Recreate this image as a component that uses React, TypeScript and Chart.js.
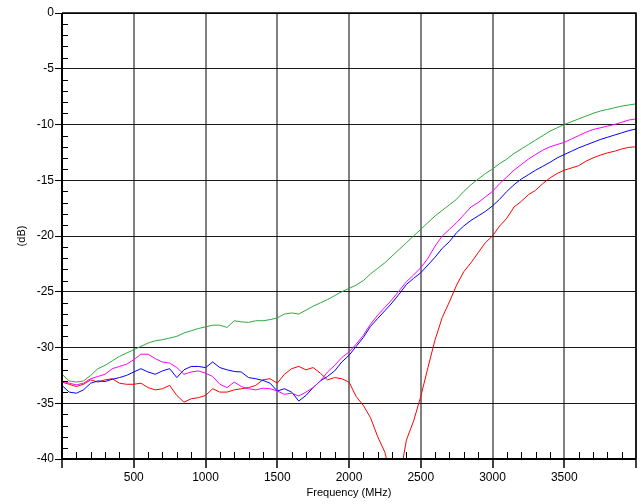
import React, { useEffect, useRef } from "react";
import { Chart, registerables } from "chart.js";

Chart.register(...registerables);

const FREQ: number[] = [
  0, 50, 100, 150, 200, 250, 300, 350, 400, 450, 500, 550, 600, 650, 700, 750, 800, 850, 900, 950,
  1000, 1050, 1100, 1150, 1200, 1250, 1300, 1350, 1400, 1450, 1500, 1550, 1600, 1650, 1700, 1750, 1800, 1850, 1900, 1950,
  2000, 2050, 2100, 2150, 2200, 2250, 2300, 2350, 2400, 2450, 2500, 2550, 2600, 2650, 2700, 2750, 2800, 2850, 2900, 2950,
  3000, 3050, 3100, 3150, 3200, 3250, 3300, 3350, 3400, 3450, 3500, 3550, 3600, 3650, 3700, 3750, 3800, 3850, 3900, 3950,
  4000,
];

const GREEN: number[] = [
  -32.4, -33.0, -33.1, -33.0, -32.5, -31.9, -31.6, -31.2, -30.8, -30.5, -30.2, -29.9, -29.6, -29.4, -29.3, -29.15, -29.0, -28.7, -28.5, -28.3,
  -28.15, -28.0, -28.0, -28.2, -27.6, -27.7, -27.75, -27.6, -27.6, -27.5, -27.35, -27.0, -26.9, -27.0, -26.65, -26.3, -26.0, -25.7, -25.35, -25.0,
  -24.7, -24.4, -24.0, -23.4, -22.9, -22.4, -21.8, -21.2, -20.6, -20.0, -19.4, -18.8, -18.2, -17.7, -17.2, -16.7, -16.0, -15.4, -14.9, -14.4,
  -14.0, -13.5, -13.1, -12.6, -12.2, -11.8, -11.4, -11.0, -10.6, -10.3, -10.0, -9.75, -9.5, -9.25, -9.0, -8.8, -8.65, -8.5, -8.35, -8.25,
  -8.15,
];

const MAGENTA: number[] = [
  -33.0, -33.2, -33.35, -33.2, -32.8, -32.6, -32.4, -31.9, -31.7, -31.5, -31.1, -30.6, -30.6, -31.0, -31.3, -31.4, -31.8, -32.4, -32.2, -32.1,
  -32.3, -32.6, -33.3, -33.6, -33.1, -33.5, -33.7, -33.8, -33.65, -33.7, -33.9, -34.2, -34.1, -34.35, -34.0, -33.6, -33.0, -32.2, -31.6, -30.9,
  -30.4, -29.7, -28.9, -27.9, -27.1, -26.4, -25.7, -24.9, -24.1, -23.5, -22.85, -22.0, -20.9, -20.0, -19.4, -18.8, -18.1, -17.4, -17.0, -16.5,
  -16.0, -15.3, -14.7, -14.1, -13.6, -13.1, -12.7, -12.3, -12.0, -11.8, -11.6, -11.3, -11.0, -10.7, -10.45, -10.3, -10.15, -10.0, -9.8, -9.6,
  -9.5,
];

const BLUE: number[] = [
  -33.4, -34.0, -34.1, -33.8, -33.2, -33.0, -33.05, -32.85, -32.7, -32.5, -32.2, -31.9, -32.2, -32.4, -32.1, -31.9, -32.7, -32.0, -31.7, -31.7,
  -31.8, -31.3, -31.8, -32.0, -32.15, -32.2, -32.7, -32.8, -32.95, -33.2, -33.9, -33.7, -34.0, -34.8, -34.3, -33.6, -33.0, -32.6, -32.1, -31.3,
  -30.7, -29.9, -29.1, -28.1, -27.4, -26.7, -26.0, -25.2, -24.35, -23.8, -23.3, -22.6, -21.9, -21.1, -20.5, -19.7, -19.1, -18.6, -18.2, -17.8,
  -17.3, -16.7, -16.0, -15.4, -14.9, -14.5, -14.1, -13.75, -13.4, -13.0, -12.7, -12.4, -12.1, -11.85, -11.6, -11.35, -11.15, -10.95, -10.75, -10.55,
  -10.4,
];

const RED: number[] = [
  -33.1, -33.3, -33.5, -33.3, -32.9, -33.1, -32.9, -32.8, -33.2, -33.3, -33.3, -33.2, -33.6, -33.8, -33.7, -33.4, -34.3, -34.9, -34.6, -34.5,
  -34.3, -33.7, -34.0, -34.0, -33.8, -33.7, -33.6, -33.4, -32.9, -32.8, -33.2, -32.4, -31.9, -31.7, -32.0, -31.8, -32.3, -32.9, -32.7, -32.8,
  -33.1, -34.4, -35.2, -36.3, -38.0, -39.4, -42.0, -42.0, -38.3, -36.6, -34.4, -31.8, -29.3, -27.3, -25.9, -24.4, -23.2, -22.4, -21.5, -20.6,
  -20.0, -19.1, -18.4, -17.4, -16.9, -16.3, -15.9, -15.3, -14.8, -14.4, -14.1, -13.9, -13.7, -13.3, -13.0, -12.75, -12.55, -12.4, -12.2, -12.05,
  -12.0,
];

const X_MIN = 0;
const X_MAX = 4000;
const X_MAJOR = 500;
const X_MINOR = 100;
const Y_MIN = -40;
const Y_MAX = 0;
const Y_MAJOR = 5;
const Y_MINOR = 1;

const X_TITLE = "Frequency (MHz)";
const Y_TITLE = "(dB)";

const FONT = "Arial, 'Liberation Sans', sans-serif";

const toPoints = (ys: number[]) => FREQ.map((f, i) => ({ x: f, y: ys[i] }));

const frame = {
  id: "frameAndMinorTicks",
  afterDraw(chart: any) {
    const { ctx, chartArea, scales } = chart;
    const xs = scales.x;
    const ys = scales.y;
    ctx.save();
    ctx.strokeStyle = "#000";
    ctx.lineWidth = 1;
    ctx.beginPath();
    for (let v = X_MIN + X_MINOR; v < X_MAX; v += X_MINOR) {
      if (v % X_MAJOR === 0) continue;
      const px = Math.round(xs.getPixelForValue(v)) + 0.5;
      ctx.moveTo(px, chartArea.bottom);
      ctx.lineTo(px, chartArea.bottom - 7);
    }
    for (let v = Y_MIN + Y_MINOR; v < Y_MAX; v += Y_MINOR) {
      if (v % Y_MAJOR === 0) continue;
      const py = Math.round(ys.getPixelForValue(v)) + 0.5;
      ctx.moveTo(chartArea.left, py);
      ctx.lineTo(chartArea.left + 6, py);
    }
    ctx.stroke();
    ctx.lineWidth = 1.5;
    ctx.beginPath();
    ctx.moveTo(chartArea.left, chartArea.top);
    ctx.lineTo(chartArea.right, chartArea.top);
    ctx.lineTo(chartArea.right, chartArea.bottom);
    ctx.stroke();
    ctx.lineWidth = 2;
    ctx.beginPath();
    ctx.moveTo(chartArea.left, chartArea.top);
    ctx.lineTo(chartArea.left, chartArea.bottom);
    ctx.lineTo(chartArea.right, chartArea.bottom);
    ctx.stroke();
    ctx.restore();
  },
};

export default function App() {
  const ref = useRef<HTMLCanvasElement | null>(null);

  useEffect(() => {
    document.body.style.margin = "0";
    if (!ref.current) return;
    const mk = (label: string, data: number[], color: string) => ({
      label,
      data: toPoints(data),
      borderColor: color,
      backgroundColor: color,
      borderWidth: 1,
      pointRadius: 0,
      tension: 0,
      fill: false,
    });
    const chart = new Chart(ref.current, {
      type: "line",
      data: {
        datasets: [
          mk("green", GREEN, "#2fa83c"),
          mk("magenta", MAGENTA, "#ff00ff"),
          mk("blue", BLUE, "#0000ff"),
          mk("red", RED, "#ff0000"),
        ],
      },
      options: {
        responsive: false,
        animation: false,
        layout: { padding: { top: 13, right: 5, left: 0, bottom: 0 } },
        plugins: { legend: { display: false }, tooltip: { enabled: false } },
        scales: {
          x: {
            type: "linear",
            min: X_MIN,
            max: X_MAX,
            afterFit: (s: any) => {
              s.height = 45;
            },
            ticks: {
              stepSize: X_MAJOR,
              color: "#000",
              padding: 2,
              font: { family: FONT, size: 12 },
              maxRotation: 0,
              callback: (v: any) => (v === X_MIN || v === X_MAX ? "" : String(v)),
            },
            grid: {
              color: "#808080",
              lineWidth: 2,
              tickLength: 9,
              tickColor: "#000",
              tickWidth: 1.5,
            },
            border: { display: false },
            title: {
              display: true,
              text: X_TITLE,
              color: "#000",
              font: { family: FONT, size: 11 },
              padding: { top: 0, bottom: 4 },
            },
          },
          y: {
            type: "linear",
            min: Y_MIN,
            max: Y_MAX,
            afterFit: (s: any) => {
              s.width = 62;
            },
            ticks: {
              stepSize: Y_MAJOR,
              color: "#000",
              padding: 1,
              font: { family: FONT, size: 12 },
            },
            grid: {
              color: "#1a1a1a",
              lineWidth: 1,
              tickLength: 7,
              tickColor: "#000",
            },
            border: { display: false },
            title: {
              display: true,
              text: Y_TITLE,
              color: "#000",
              font: { family: FONT, size: 11 },
              padding: { top: 15, bottom: 0 },
            },
          },
        },
      },
      plugins: [frame],
    });
    return () => chart.destroy();
  }, []);

  return (
    <div style={{ width: 641, height: 504 }}>
      <canvas ref={ref} width={641} height={504} style={{ display: "block" }} />
    </div>
  );
}
